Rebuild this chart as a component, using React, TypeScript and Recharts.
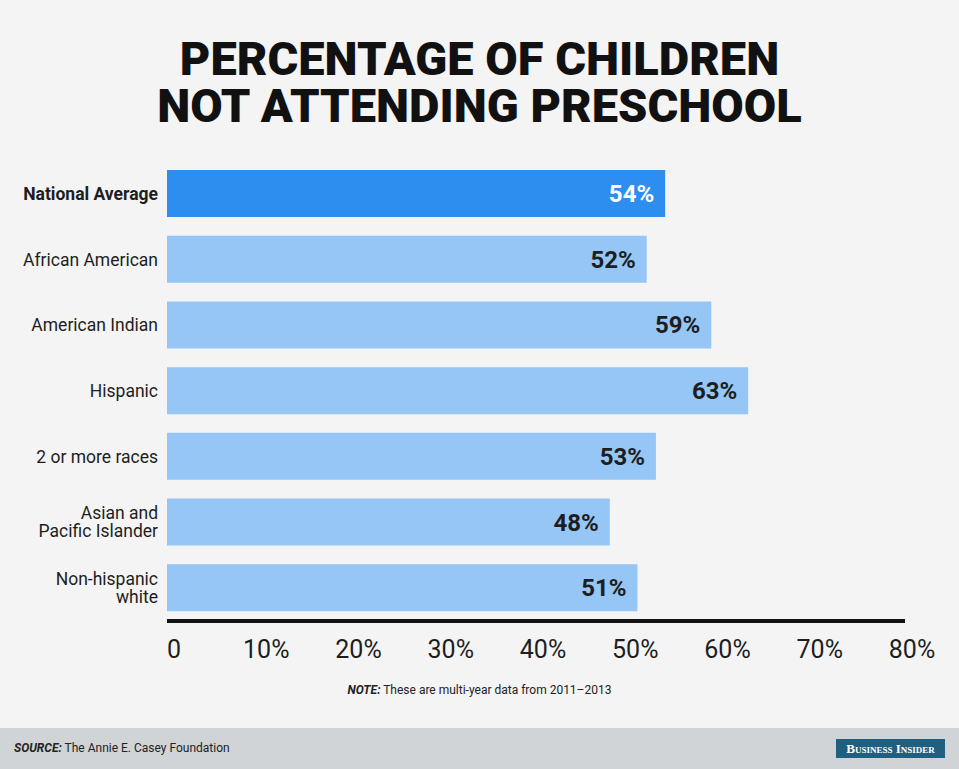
import React from 'react';
import { BarChart, Bar, XAxis, YAxis, LabelList, Cell } from 'recharts';

const categories = [
  'National Average',
  'African American',
  'American Indian',
  'Hispanic',
  '2 or more races',
  'Asian and\nPacific Islander',
  'Non-hispanic\nwhite',
];
const values = [54, 52, 59, 63, 53, 48, 51];
const xTicks = [0, 10, 20, 30, 40, 50, 60, 70, 80];

const data = categories.map((name, i) => ({ name, value: values[i] }));

const DARK_BLUE = '#2e8ef0';
const LIGHT_BLUE = '#95c6f6';
const TEXT = '#1e1e1e';
const CONDENSED = "'Liberation Sans Narrow', 'Roboto', sans-serif";

const YTick = (props: any) => {
  const { x, y, payload } = props;
  const lines = String(payload.value).split('\n');
  const bold = payload.value === 'National Average';
  const lh = 18;
  const start = y - ((lines.length - 1) * lh) / 2;
  const tx = x - 1;
  return (
    <text
      x={tx}
      y={start}
      textAnchor="end"
      dominantBaseline="central"
      fill={TEXT}
      fontFamily="Roboto, sans-serif"
      fontSize={17.5}
      fontWeight={bold ? 700 : 400}
    >
      {lines.map((l, i) => (
        <tspan key={i} x={tx} y={start + i * lh} dominantBaseline="central">
          {l}
        </tspan>
      ))}
    </text>
  );
};

const XTick = (props: any) => {
  const { x, y, payload } = props;
  const label = payload.value === 0 ? '0' : `${payload.value}%`;
  return (
    <text
      x={x + 7}
      y={y + 29}
      textAnchor="middle"
      fill={TEXT}
      fontFamily={CONDENSED}
      fontSize={25}
    >
      {label}
    </text>
  );
};

const ValueLabel = (props: any) => {
  const { x, y, width, height, value, index } = props;
  return (
    <text
      x={x + width - 11}
      y={y + height / 2 + 8.5}
      textAnchor="end"
      fill={index === 0 ? '#ffffff' : TEXT}
      fontFamily="Roboto, sans-serif"
      fontSize={24}
      fontWeight={700}
    >
      {`${value}%`}
    </text>
  );
};

const App: React.FC = () => {
  return (
    <div
      style={{
        position: 'absolute',
        left: 0,
        top: 0,
        width: 959,
        height: 769,
        background: '#f4f4f4',
        overflow: 'hidden',
        fontFamily: 'Roboto, sans-serif',
      }}
    >
      <div
        style={{
          position: 'absolute',
          top: 35,
          left: 0,
          width: 959,
          textAlign: 'center',
          fontSize: 47,
          lineHeight: '47px',
          fontWeight: 900,
          color: '#111',
        }}
      >
        <div>PERCENTAGE OF CHILDREN</div>
        <div>NOT ATTENDING PRESCHOOL</div>
      </div>

      <div style={{ position: 'absolute', left: 0, top: 0 }}>
        <BarChart
          layout="vertical"
          width={959}
          height={680}
          data={data}
          margin={{ top: 161, right: 54, left: 0, bottom: 0 }}
        >
          <XAxis
            type="number"
            domain={[0, 80]}
            ticks={xTicks}
            height={59}
            axisLine={{ stroke: '#111', strokeWidth: 4 }}
            tickLine={false}
            tick={<XTick />}
            interval={0}
          />
          <YAxis
            type="category"
            dataKey="name"
            width={167}
            axisLine={false}
            tickLine={false}
            tick={<YTick />}
            interval={0}
          />
          <Bar dataKey="value" barSize={47} isAnimationActive={false}>
            {data.map((d, i) => (
              <Cell key={d.name} fill={i === 0 ? DARK_BLUE : LIGHT_BLUE} />
            ))}
            <LabelList dataKey="value" content={<ValueLabel />} />
          </Bar>
        </BarChart>
      </div>

      <div
        style={{
          position: 'absolute',
          top: 683,
          left: 0,
          width: 959,
          textAlign: 'center',
          fontSize: 12,
          fontFamily: CONDENSED,
          color: '#222',
        }}
      >
        <b><i>NOTE:</i></b> These are multi-year data from 2011–2013
      </div>

      <div
        style={{
          position: 'absolute',
          top: 728,
          left: 0,
          width: 959,
          height: 41,
          background: '#d0d4d6',
        }}
      >
        <div
          style={{
            position: 'absolute',
            left: 14,
            top: 13,
            fontSize: 12,
            fontFamily: CONDENSED,
            color: '#222',
          }}
        >
          <b><i>SOURCE:</i></b> The Annie E. Casey Foundation
        </div>
        <div
          style={{
            position: 'absolute',
            left: 836,
            top: 11,
            width: 109,
            height: 19,
            background: '#1f5f80',
            color: '#fff',
            fontFamily: "'Liberation Serif', serif",
            fontSize: 13,
            fontWeight: 700,
            lineHeight: '19px',
            textAlign: 'center',
            fontVariant: 'small-caps',
            whiteSpace: 'nowrap',
          }}
        >
          Business Insider
        </div>
      </div>
    </div>
  );
};

export default App;
